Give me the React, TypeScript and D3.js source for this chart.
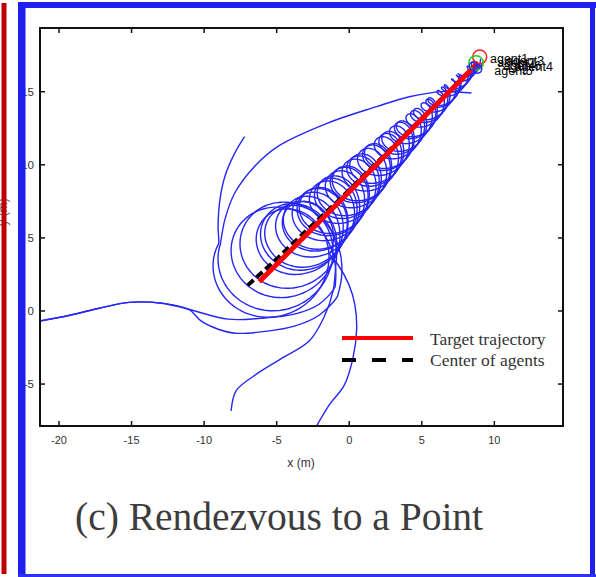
import React from "react";
import * as d3 from "d3";

// ---- axes ----
const xDomain = [-21.31, 14.73];
const yDomain = [-7.87, 19.36];
const xTicks = [-20, -15, -10, -5, 0, 5, 10];
const yTicks = [-5, 0, 5, 10, 15];

// ---- target and centroid ----
const targetX = [-6.2, 8.9];
const targetY = [2.0, 17.0];
const centerX = [-7.0, -5.0, -3.0, -1.0, 8.9];
const centerY = [1.75, 3.55, 5.45, 7.3, 17.0];

// ---- encircling coil: radius against target progress ----
const coilU = [0, 0.1, 0.2, 0.4, 0.6, 0.8, 1.0];
const coilRadius = [3.9, 3.2, 2.4, 1.75, 1.2, 0.7, 0.3];
const turnsPerRun = 8.0;
const settleSpan = 0.06;

// ---- agents: approach waypoints and the moment each joins the coil ----
const agentNames = ["agent1", "agent2", "agent3", "agent4", "agent5", "agent6"];
const agentEntryX = [
  [-21.9, -19.25, -17.21, -15.17, -12.92, -11.08, -8.35, -6.1, -3.78, -2.08, -0.99],
  [-21.9, -19.25, -17.21, -15.17, -12.92, -11.08, -10.19, -9.03, -7.87, -5.62, -3.78, -2.08, -0.85],
  [8.42, 6.44, 4.13, 1.88, -1.53, -4.94, -6.53, -7.89, -8.57, -8.89],
  [-7.21, -7.89, -8.57, -8.91, -9.04, -9.0],
  [-8.14, -7.8, -6.58, -4.74, -2.76, -1.74, -1.12, -0.92],
  [-2.5, -1.33, -0.37, 0.24, 0.51, 0.38, -0.03, -0.78, -1.33],
];
const agentEntryY = [
  [-0.8, -0.29, 0.19, 0.59, 0.53, 0.12, -0.56, -0.5, -0.22, 0.46, 1.62],
  [-0.8, -0.29, 0.19, 0.59, 0.53, 0.12, -0.7, -1.25, -1.52, -1.38, -1.04, -0.29, 0.93],
  [14.91, 15.01, 14.66, 13.98, 12.84, 11.25, 9.89, 8.07, 6.25, 4.55],
  [11.93, 10.8, 9.2, 7.62, 5.8, 4.6],
  [-6.84, -5.47, -4.45, -3.29, -2.06, -0.43, 1.34, 3.18],
  [-8.3, -6.36, -5.13, -3.29, -1.25, 0.46, 1.82, 3.18, 3.87],
];
const agentJoinU = [0.04, 0.065, 0.06, 0.03, 0.12, 0.18];
const agentLabelX = [9.7, 10.2, 10.8, 11.4, 10.0, 10.6];
const agentLabelY = [16.95, 16.68, 16.8, 16.42, 16.15, 16.5];

// ---- end markers ----
const markerX = [8.99, 8.74, 8.55, 8.85];
const markerY = [17.38, 16.97, 16.75, 16.55];
const markerR = [0.48, 0.5, 0.28, 0.28];
const markerColor = ["#ff2020", "#20d020", "#2626f5", "#2626f5"];

// ---- legend ----
const legendLabels = ["Target trajectory", "Center of agents"];

const plot = { left: 40, right: 563, top: 28, bottom: 426 };

const xScale = d3.scaleLinear().domain(xDomain).range([plot.left, plot.right]);
const yScale = d3.scaleLinear().domain(yDomain).range([plot.bottom, plot.top]);
const tx = d3.scaleLinear().domain([0, 1]).range(targetX);
const ty = d3.scaleLinear().domain([0, 1]).range(targetY);
const radiusAt = d3.scaleLinear().domain(coilU).range(coilRadius);

type Pt = [number, number];

function agentTrack(ex: number[], ey: number[], u0: number): Pt[] {
  const pts: Pt[] = ex.map((x, i) => [x, ey[i]] as Pt);
  const [lx, ly] = pts[pts.length - 1];
  const cx0 = tx(u0);
  const cy0 = ty(u0);
  const theta0 = Math.atan2(ly - cy0, lx - cx0);
  const extra = Math.hypot(lx - cx0, ly - cy0) - radiusAt(u0);
  const omega = 2 * Math.PI * turnsPerRun;
  const steps = Math.ceil((1 - u0) / 0.0012);
  for (let i = 1; i <= steps; i++) {
    const u = u0 + ((1 - u0) * i) / steps;
    const r = radiusAt(u) + extra * Math.exp(-(u - u0) / settleSpan);
    const a = theta0 + omega * (u - u0);
    pts.push([tx(u) + r * Math.cos(a), ty(u) + r * Math.sin(a)]);
  }
  return pts;
}

const line = d3
  .line<Pt>()
  .x((d) => xScale(d[0]))
  .y((d) => yScale(d[1]))
  .curve(d3.curveCatmullRom.alpha(0.5));

const straight = d3
  .line<Pt>()
  .x((d) => xScale(d[0]))
  .y((d) => yScale(d[1]));

export default function App() {
  const tracks = agentNames.map((_, k) =>
    agentTrack(agentEntryX[k], agentEntryY[k], agentJoinU[k])
  );
  const targetPts: Pt[] = targetX.map((x, i) => [x, targetY[i]]);
  const centerPts: Pt[] = centerX.map((x, i) => [x, centerY[i]]);
  const tickFont = "Liberation Sans, Arial, sans-serif";
  const serif = "Liberation Serif, Times New Roman, serif";
  const pw = plot.right - plot.left;
  const ph = plot.bottom - plot.top;

  return (
    <svg
      width={596}
      height={577}
      style={{ position: "absolute", left: 0, top: 0, background: "#fff" }}
    >
      <defs>
        <clipPath id="plotClip">
          <rect x={plot.left} y={plot.top} width={pw} height={ph} />
        </clipPath>
      </defs>

      {/* y label, mostly behind the left frames */}
      <text
        transform={`translate(6.5,212) rotate(-90)`}
        textAnchor="middle"
        fontFamily={tickFont}
        fontSize={12}
        fill="#555"
      >
        y (m)
      </text>

      <g clipPath="url(#plotClip)">
        {tracks.map((t, k) => (
          <path key={k} d={line(t) || ""} fill="none" stroke="#2626f5" strokeWidth={1.4} />
        ))}
        <path
          d={straight(centerPts) || ""}
          fill="none"
          stroke="#000"
          strokeWidth={4}
          strokeDasharray="8,4"
        />
        <path d={straight(targetPts) || ""} fill="none" stroke="#ff0000" strokeWidth={5} />
        {markerX.map((x, i) => (
          <circle
            key={i}
            cx={xScale(x)}
            cy={yScale(markerY[i])}
            r={xScale(markerR[i]) - xScale(0)}
            fill="none"
            stroke={markerColor[i]}
            strokeWidth={1.5}
          />
        ))}
      </g>

      {agentNames.map((n, i) => (
        <text
          key={n}
          x={xScale(agentLabelX[i])}
          y={yScale(agentLabelY[i])}
          fontFamily={tickFont}
          fontSize={12.5}
          fill="#000"
        >
          {n}
        </text>
      ))}

      {/* frame and ticks */}
      <rect
        x={plot.left}
        y={plot.top}
        width={pw}
        height={ph}
        fill="none"
        stroke="#111"
        strokeWidth={2}
      />
      {xTicks.map((t) => (
        <g key={"x" + t}>
          <line x1={xScale(t)} x2={xScale(t)} y1={plot.bottom} y2={plot.bottom - 5} stroke="#111" strokeWidth={1.5} />
          <line x1={xScale(t)} x2={xScale(t)} y1={plot.top} y2={plot.top + 5} stroke="#111" strokeWidth={1.5} />
          <text
            x={xScale(t)}
            y={plot.bottom + 18}
            textAnchor="middle"
            fontFamily={tickFont}
            fontSize={11}
            fill="#333"
          >
            {t}
          </text>
        </g>
      ))}
      {yTicks.map((t) => (
        <g key={"y" + t}>
          <line x1={plot.left} x2={plot.left + 5} y1={yScale(t)} y2={yScale(t)} stroke="#111" strokeWidth={1.5} />
          <line x1={plot.right} x2={plot.right - 5} y1={yScale(t)} y2={yScale(t)} stroke="#111" strokeWidth={1.5} />
          <text
            x={34}
            y={yScale(t) + 4}
            textAnchor="end"
            fontFamily={tickFont}
            fontSize={11.5}
            fill="#333"
          >
            {t}
          </text>
        </g>
      ))}
      <text x={301} y={467} textAnchor="middle" fontFamily={tickFont} fontSize={12} fill="#333">
        x (m)
      </text>

      {/* legend */}
      <line x1={342} x2={413} y1={338} y2={338} stroke="#ff0000" strokeWidth={4} />
      <line x1={342} x2={413} y1={360} y2={360} stroke="#000" strokeWidth={4} strokeDasharray="14,16" />
      <text x={430} y={345} fontFamily={serif} fontSize={17.5} fill="#333">
        {legendLabels[0]}
      </text>
      <text x={430} y={366} fontFamily={serif} fontSize={17.5} fill="#333">
        {legendLabels[1]}
      </text>

      {/* caption */}
      <text x={75} y={530} fontFamily={serif} fontSize={39.5} fill="#3c3c3c">
        (c) Rendezvous to a Point
      </text>

      {/* surrounding page frames */}
      <rect x={1.5} y={3} width={5} height={571} fill="#c00000" />
      <rect x={18} y={2} width={7.5} height={575} fill="#1f1fee" />
      <rect x={18} y={2} width={578} height={6} fill="#1f1fee" />
      <rect x={590} y={2} width={5} height={575} fill="#1f1fee" />
      <rect x={18} y={574} width={578} height={3} fill="#3030f0" />
    </svg>
  );
}
